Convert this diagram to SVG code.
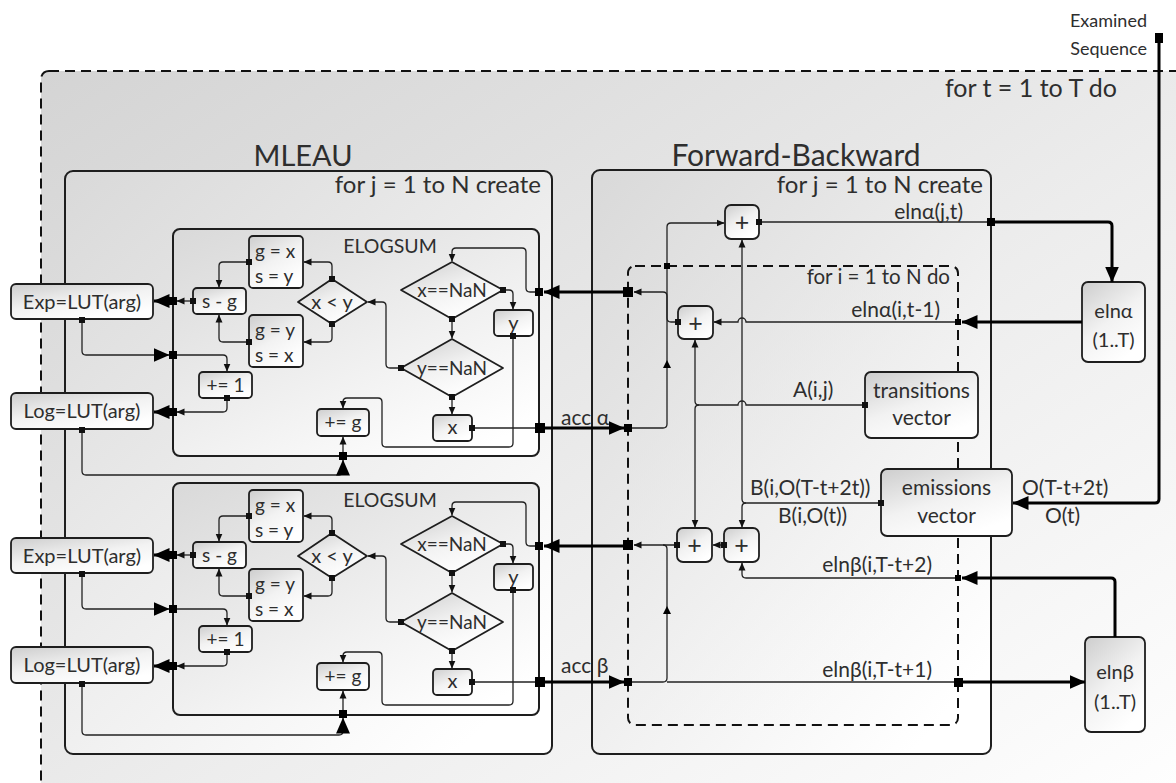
<svg xmlns="http://www.w3.org/2000/svg" width="1176" height="783" viewBox="0 0 1176 783">
<defs>
<linearGradient id="gOuter" x1="0" y1="0" x2="1" y2="1">
<stop offset="0" stop-color="#d4d4d4"/><stop offset="0.55" stop-color="#ededed"/><stop offset="1" stop-color="#ffffff"/>
</linearGradient>
<linearGradient id="gBox" x1="0" y1="0" x2="0.8" y2="1">
<stop offset="0" stop-color="#d9d9d9"/><stop offset="1" stop-color="#ffffff"/>
</linearGradient>
<linearGradient id="gDash" x1="0" y1="0" x2="0.8" y2="1">
<stop offset="0" stop-color="#dcdcdc" stop-opacity="0.8"/><stop offset="1" stop-color="#ffffff" stop-opacity="0"/>
</linearGradient>
<linearGradient id="gNode" x1="0" y1="0" x2="0.6" y2="1">
<stop offset="0" stop-color="#cdcdcd"/><stop offset="0.55" stop-color="#f2f2f2"/><stop offset="1" stop-color="#ffffff"/>
</linearGradient>
<marker id="a" markerUnits="userSpaceOnUse" markerWidth="8" markerHeight="8" refX="7.5" refY="4" orient="auto"><path d="M0,0.5 L8,4 L0,7.5 z" fill="#111"/></marker>
<marker id="A" markerUnits="userSpaceOnUse" markerWidth="16" markerHeight="14" refX="15.5" refY="7" orient="auto"><path d="M0,0 L16,7 L0,14 z" fill="#000"/></marker>
<marker id="s" markerUnits="userSpaceOnUse" markerWidth="6" markerHeight="6" refX="3" refY="3"><rect width="6" height="6" fill="#111"/></marker>
<style>
.t{font-family:Lato,"Open Sans","Liberation Sans",sans-serif;fill:#2e2e2e}
.box{stroke:#1e1e1e;stroke-width:1.8;fill:url(#gNode)}
.cont{stroke:#1e1e1e;stroke-width:2;fill:url(#gBox)}
.c{fill:none;stroke:#222;stroke-width:1.3}
.h{fill:none;stroke:#000;stroke-width:3}
.j{fill:#000}
.lbl{font-size:21px}
.pl{font-size:25px}
</style>
</defs>

<g id="outer-loop">
<rect x="41" y="71" width="1160" height="740" rx="8" fill="url(#gOuter)" stroke="#111" stroke-width="2" stroke-dasharray="10,6"/>
<text class="t" x="945" y="97" font-size="25">for t = 1 to T do</text>
</g>
<g id="examined">
<text class="t" x="1147" y="27" font-size="18" text-anchor="end">Examined</text>
<text class="t" x="1147" y="55" font-size="18" text-anchor="end">Sequence</text>
</g>

<g id="mleau">
<text class="t" x="303" y="166" font-size="29" text-anchor="middle">MLEAU</text>
<rect class="cont" x="65" y="171" width="487" height="583" rx="8"/>
<text class="t" x="541" y="193" font-size="24" text-anchor="end">for j = 1 to N create</text>
</g>
<g id="fb">
<text class="t" x="796" y="166" font-size="30" text-anchor="middle">Forward-Backward</text>
<rect class="cont" x="592" y="170" width="399" height="584" rx="8"/>
<text class="t" x="983" y="193" font-size="24" text-anchor="end">for j = 1 to N create</text>
</g>
<g id="inner-loop">
<rect x="628" y="266" width="330" height="459" rx="7" fill="url(#gDash)" stroke="#111" stroke-width="2" stroke-dasharray="10,6"/>
<text class="t" x="950" y="284" font-size="20.5" text-anchor="end">for i = 1 to N do</text>
</g>

<g id="elogsum-upper">
<rect class="cont" x="173" y="229" width="366" height="227" rx="7"/>
<text class="t" x="390" y="253" font-size="19.5" text-anchor="middle">ELOGSUM</text>
</g>
<g id="elogsum-lower">
<rect class="cont" x="173" y="483" width="366" height="232" rx="7"/>
<text class="t" x="390" y="507" font-size="19.5" text-anchor="middle">ELOGSUM</text>
</g>

<g id="upper-nodes">
<g id="exp1"><rect class="box" x="11" y="284" width="142" height="35" rx="5"/><text class="t" x="82" y="308.5" font-size="20" text-anchor="middle">Exp=LUT(arg)</text></g>
<g id="log1"><rect class="box" x="11" y="393" width="142" height="36" rx="5"/><text class="t" x="82" y="418" font-size="20" text-anchor="middle">Log=LUT(arg)</text></g>
<g id="sg1"><rect class="box" x="193" y="288" width="53" height="26" rx="4"/><text class="t" x="219.5" y="307.5" font-size="19" text-anchor="middle">s - g</text></g>
<g id="gx1"><rect class="box" x="249" y="236" width="54" height="52" rx="4"/><text class="t" x="255" y="258" font-size="19">g = x</text><text class="t" x="255" y="283" font-size="19">s = y</text></g>
<g id="gy1"><rect class="box" x="249" y="315" width="54" height="52" rx="4"/><text class="t" x="255" y="337" font-size="19">g = y</text><text class="t" x="255" y="362" font-size="19">s = x</text></g>
<g id="inc1"><rect class="box" x="199" y="372" width="53" height="26" rx="4"/><text class="t" x="225.5" y="391.5" font-size="19" text-anchor="middle">+= 1</text></g>
<g id="cmp1"><polygon class="box" stroke-linejoin="round" points="298,302 332,279 367,302 332,324"/><text class="t" x="332" y="309" font-size="20" text-anchor="middle">x &lt; y</text></g>
<g id="xnan1"><polygon class="box" stroke-linejoin="round" points="401,290 452,262 503,290 452,319"/><text class="t" x="452" y="297" font-size="19" text-anchor="middle">x==NaN</text></g>
<g id="ynan1"><polygon class="box" stroke-linejoin="round" points="401,368 452,339 503,368 452,397"/><text class="t" x="452" y="375" font-size="19" text-anchor="middle">y==NaN</text></g>
<g id="y1"><rect class="box" x="494" y="310" width="39" height="26" rx="4"/><text class="t" x="513.5" y="330" font-size="20" text-anchor="middle">y</text></g>
<g id="x1"><rect class="box" x="433" y="415" width="39" height="26" rx="4"/><text class="t" x="452.5" y="434" font-size="20" text-anchor="middle">x</text></g>
<g id="addg1"><rect class="box" x="317" y="409" width="52" height="27" rx="4"/><text class="t" x="343" y="428.5" font-size="19" text-anchor="middle">+= g</text></g>
</g>

<g id="lower-nodes" transform="translate(0,254)">
<g id="exp2"><rect class="box" x="11" y="284" width="142" height="35" rx="5"/><text class="t" x="82" y="308.5" font-size="20" text-anchor="middle">Exp=LUT(arg)</text></g>
<g id="log2"><rect class="box" x="11" y="393" width="142" height="36" rx="5"/><text class="t" x="82" y="418" font-size="20" text-anchor="middle">Log=LUT(arg)</text></g>
<g id="sg2"><rect class="box" x="193" y="288" width="53" height="26" rx="4"/><text class="t" x="219.5" y="307.5" font-size="19" text-anchor="middle">s - g</text></g>
<g id="gx2"><rect class="box" x="249" y="236" width="54" height="52" rx="4"/><text class="t" x="255" y="258" font-size="19">g = x</text><text class="t" x="255" y="283" font-size="19">s = y</text></g>
<g id="gy2"><rect class="box" x="249" y="315" width="54" height="52" rx="4"/><text class="t" x="255" y="337" font-size="19">g = y</text><text class="t" x="255" y="362" font-size="19">s = x</text></g>
<g id="inc2"><rect class="box" x="199" y="372" width="53" height="26" rx="4"/><text class="t" x="225.5" y="391.5" font-size="19" text-anchor="middle">+= 1</text></g>
<g id="cmp2"><polygon class="box" stroke-linejoin="round" points="298,302 332,279 367,302 332,324"/><text class="t" x="332" y="309" font-size="20" text-anchor="middle">x &lt; y</text></g>
<g id="xnan2"><polygon class="box" stroke-linejoin="round" points="401,290 452,262 503,290 452,319"/><text class="t" x="452" y="297" font-size="19" text-anchor="middle">x==NaN</text></g>
<g id="ynan2"><polygon class="box" stroke-linejoin="round" points="401,368 452,339 503,368 452,397"/><text class="t" x="452" y="375" font-size="19" text-anchor="middle">y==NaN</text></g>
<g id="y2"><rect class="box" x="494" y="310" width="39" height="26" rx="4"/><text class="t" x="513.5" y="330" font-size="20" text-anchor="middle">y</text></g>
<g id="x2"><rect class="box" x="433" y="415" width="39" height="26" rx="4"/><text class="t" x="452.5" y="434" font-size="20" text-anchor="middle">x</text></g>
<g id="addg2"><rect class="box" x="317" y="409" width="52" height="27" rx="4"/><text class="t" x="343" y="428.5" font-size="19" text-anchor="middle">+= g</text></g>
</g>

<g id="fb-nodes">
<g id="plus-top"><rect class="box" x="725" y="205" width="34" height="34" rx="6"/><text class="t pl" x="742" y="231" text-anchor="middle">+</text></g>
<g id="plus-mid"><rect class="box" x="678" y="306" width="35" height="33" rx="6"/><text class="t pl" x="695.5" y="331.5" text-anchor="middle">+</text></g>
<g id="plus-bl"><rect class="box" x="677" y="528" width="35" height="34" rx="6"/><text class="t pl" x="694.5" y="554" text-anchor="middle">+</text></g>
<g id="plus-br"><rect class="box" x="724" y="528" width="35" height="34" rx="6"/><text class="t pl" x="741.5" y="554" text-anchor="middle">+</text></g>
<g id="transitions"><rect class="box" x="865" y="372" width="113" height="66" rx="6"/><text class="t" x="921.5" y="398" font-size="21" text-anchor="middle">transitions</text><text class="t" x="921.5" y="425" font-size="21" text-anchor="middle">vector</text></g>
<g id="emissions"><rect class="box" x="881" y="469" width="131" height="67" rx="6"/><text class="t" x="946.5" y="495" font-size="21" text-anchor="middle">emissions</text><text class="t" x="946.5" y="523" font-size="21" text-anchor="middle">vector</text></g>
<g id="eln-alpha"><rect class="box" x="1082" y="282" width="63" height="80" rx="6"/><text class="t" x="1113.5" y="318" font-size="20" text-anchor="middle">elnα</text><text class="t" x="1113.5" y="347" font-size="20" text-anchor="middle">(1..T)</text></g>
<g id="eln-beta"><rect class="box" x="1085" y="637" width="60" height="95" rx="6"/><text class="t" x="1115" y="679" font-size="20" text-anchor="middle">elnβ</text><text class="t" x="1115" y="709" font-size="20" text-anchor="middle">(1..T)</text></g>
</g>

<g id="connectors">
<g id="conn-upper">
<path class="c" d="M193,301 H177" marker-start="url(#s)" marker-end="url(#a)"/>
<rect class="j" x="169" y="297" width="8" height="8"/>
<path class="h" d="M169,301 H154" marker-end="url(#A)"/>
<path class="c" d="M249,262 H223 Q219,262 219,266 V287" marker-start="url(#s)" marker-end="url(#a)"/>
<path class="c" d="M249,342 H223 Q219,342 219,338 V315" marker-start="url(#s)" marker-end="url(#a)"/>
<path class="c" d="M82,320 V351 Q82,355 86,355 H169" marker-start="url(#s)" marker-end="url(#A)"/>
<rect class="j" x="169" y="351" width="8" height="8"/>
<path class="c" d="M177,355 H223 Q227,355 227,359 V371" marker-end="url(#a)"/>
<path class="c" d="M227,398 V408 Q227,412 223,412 H177" marker-start="url(#s)" marker-end="url(#a)"/>
<rect class="j" x="169" y="408" width="8" height="8"/>
<path class="h" d="M169,412 H154" marker-end="url(#A)"/>
<path class="c" d="M82,430 V471 Q82,475 86,475 H339 Q343,475 343,471 V460" marker-start="url(#s)" marker-end="url(#A)"/>
<rect class="j" x="339" y="452" width="8" height="8"/>
<path class="c" d="M343,452 V437" marker-end="url(#a)"/>
<path class="c" d="M332,279 V266 Q332,262 328,262 H304" marker-start="url(#s)" marker-end="url(#a)"/>
<path class="c" d="M332,324 V338 Q332,342 328,342 H304" marker-start="url(#s)" marker-end="url(#a)"/>
<path class="c" d="M452,319 V338" marker-start="url(#s)" marker-end="url(#a)"/>
<path class="c" d="M503,290 H509 Q513,290 513,294 V309" marker-start="url(#s)" marker-end="url(#a)"/>
<path class="c" d="M401,368 H390 Q386,368 386,364 V306 Q386,302 382,302 H368" marker-start="url(#s)" marker-end="url(#a)"/>
<path class="c" d="M452,397 V414" marker-start="url(#s)" marker-end="url(#a)"/>
<path class="c" d="M513,336 V443 Q513,447 509,447 H386 Q382,447 382,443 V402 Q382,398 378,398 H347 Q343,398 343,402 V408" marker-start="url(#s)" marker-end="url(#a)"/>
<path class="c" d="M472,428 H535" marker-start="url(#s)"/>
<rect class="j" x="535" y="423" width="10" height="10"/>
<path class="h" d="M545,428 H624" marker-end="url(#A)"/>
<path class="h" d="M623,292 H544" marker-end="url(#A)"/>
<rect class="j" x="535" y="288" width="8" height="8"/>
<path class="c" d="M535,292 H530 Q526,292 526,288 V252 Q526,248 522,248 H456 Q452,248 452,252 V261" marker-end="url(#a)"/>
</g>
<g id="conn-lower" transform="translate(0,254)">
<path class="c" d="M193,301 H177" marker-start="url(#s)" marker-end="url(#a)"/>
<rect class="j" x="169" y="297" width="8" height="8"/>
<path class="h" d="M169,301 H154" marker-end="url(#A)"/>
<path class="c" d="M249,262 H223 Q219,262 219,266 V287" marker-start="url(#s)" marker-end="url(#a)"/>
<path class="c" d="M249,342 H223 Q219,342 219,338 V315" marker-start="url(#s)" marker-end="url(#a)"/>
<path class="c" d="M82,320 V351 Q82,355 86,355 H169" marker-start="url(#s)" marker-end="url(#A)"/>
<rect class="j" x="169" y="351" width="8" height="8"/>
<path class="c" d="M177,355 H223 Q227,355 227,359 V371" marker-end="url(#a)"/>
<path class="c" d="M227,398 V408 Q227,412 223,412 H177" marker-start="url(#s)" marker-end="url(#a)"/>
<rect class="j" x="169" y="408" width="8" height="8"/>
<path class="h" d="M169,412 H154" marker-end="url(#A)"/>
<path class="c" d="M82,430 V477 Q82,481 86,481 H339 Q343,481 343,477 V464" marker-start="url(#s)" marker-end="url(#A)"/>
<rect class="j" x="339" y="456" width="8" height="8"/>
<path class="c" d="M343,456 V437" marker-end="url(#a)"/>
<path class="c" d="M332,279 V266 Q332,262 328,262 H304" marker-start="url(#s)" marker-end="url(#a)"/>
<path class="c" d="M332,324 V338 Q332,342 328,342 H304" marker-start="url(#s)" marker-end="url(#a)"/>
<path class="c" d="M452,319 V338" marker-start="url(#s)" marker-end="url(#a)"/>
<path class="c" d="M503,290 H509 Q513,290 513,294 V309" marker-start="url(#s)" marker-end="url(#a)"/>
<path class="c" d="M401,368 H390 Q386,368 386,364 V306 Q386,302 382,302 H368" marker-start="url(#s)" marker-end="url(#a)"/>
<path class="c" d="M452,397 V414" marker-start="url(#s)" marker-end="url(#a)"/>
<path class="c" d="M513,336 V447 Q513,451 509,451 H386 Q382,451 382,447 V402 Q382,398 378,398 H347 Q343,398 343,402 V408" marker-start="url(#s)" marker-end="url(#a)"/>
<path class="c" d="M472,428 H535" marker-start="url(#s)"/>
<rect class="j" x="535" y="423" width="10" height="10"/>
<path class="h" d="M545,428 H624" marker-end="url(#A)"/>
<path class="h" d="M623,292 H544" marker-end="url(#A)"/>
<rect class="j" x="535" y="288" width="8" height="8"/>
<path class="c" d="M535,292 H530 Q526,292 526,288 V252 Q526,248 522,248 H456 Q452,248 452,252 V261" marker-end="url(#a)"/>
</g>
<g id="conn-fb">
<rect class="j" x="623" y="287" width="10" height="10"/>
<path class="c" d="M678,322 H671 Q667,322 667,318 V296 Q667,292 663,292 H634" marker-start="url(#s)" marker-end="url(#a)"/>
<rect class="j" x="624" y="424" width="8" height="8"/>
<path class="c" d="M632,428 H663 Q667,428 667,424 V227 Q667,223 671,223 H724" marker-end="url(#a)"/>
<path class="j" d="M663,368 L667,360 L671,368 z"/>
<rect class="j" x="664" y="263" width="6" height="6"/>
<path class="c" d="M759,222 H987" marker-start="url(#s)"/>
<rect class="j" x="987" y="218" width="8" height="8"/>
<path class="h" d="M995,222 H1108 Q1112,222 1112,226 V282" marker-end="url(#A)"/>
<path class="h" d="M1082,322 H962" marker-end="url(#A)"/>
<rect class="j" x="955" y="319" width="6" height="6"/>
<path class="c" d="M955,322 H746 A4,4 0 0 0 738,322 H714" marker-end="url(#a)"/>
<path class="c" d="M865,405 H746 A4,4 0 0 0 738,405 H699 Q695,405 695,401 V340" marker-start="url(#s)" marker-end="url(#a)"/>
<path class="c" d="M699,405 Q695,405 695,409 V527" marker-end="url(#a)"/>
<path class="c" d="M881,503 H746 Q742,503 742,499 V240" marker-start="url(#s)" marker-end="url(#a)"/>
<path class="c" d="M746,503 Q742,503 742,507 V527" marker-end="url(#a)"/>
<path class="c" d="M724,545 H713" marker-start="url(#s)" marker-end="url(#a)"/>
<rect class="j" x="623" y="540" width="10" height="10"/>
<path class="c" d="M677,545 H634" marker-start="url(#s)" marker-end="url(#a)"/>
<rect class="j" x="624" y="678" width="8" height="8"/>
<path class="c" d="M663,545 Q667,545 667,549 V678 Q667,682 663,682 H632"/>
<path class="j" d="M663,614 L667,606 L671,614 z"/>
<path class="c" d="M667,682 H955"/>
<rect class="j" x="954" y="678" width="9" height="9"/>
<path class="h" d="M963,682 H1085" marker-end="url(#A)"/>
<path class="h" d="M1115,637 V582 Q1115,578 1111,578 H962" marker-end="url(#A)"/>
<rect class="j" x="955" y="575" width="6" height="6"/>
<path class="c" d="M955,578 H746 Q742,578 742,574 V563" marker-end="url(#a)"/>
<rect class="j" x="1155" y="33" width="8" height="10"/>
<path class="h" d="M1159,43 V499 Q1159,503 1155,503 H1013" marker-end="url(#A)"/>
</g>
<g id="conn-labels">
<text class="t lbl" x="963" y="219" text-anchor="end">elnα(j,t)</text>
<text class="t lbl" x="940" y="317" text-anchor="end">elnα(i,t-1)</text>
<text class="t lbl" x="793" y="397">A(i,j)</text>
<text class="t lbl" x="561" y="425">acc α</text>
<text class="t lbl" x="561" y="673">acc β</text>
<text class="t lbl" x="750" y="495">B(i,O(T-t+2t))</text>
<text class="t lbl" x="778" y="523">B(i,O(t))</text>
<text class="t lbl" x="1022" y="495">O(T-t+2t)</text>
<text class="t lbl" x="1045" y="523">O(t)</text>
<text class="t lbl" x="932" y="572" text-anchor="end">elnβ(i,T-t+2)</text>
<text class="t lbl" x="932" y="677" text-anchor="end">elnβ(i,T-t+1)</text>
</g>
</g>
</svg>
